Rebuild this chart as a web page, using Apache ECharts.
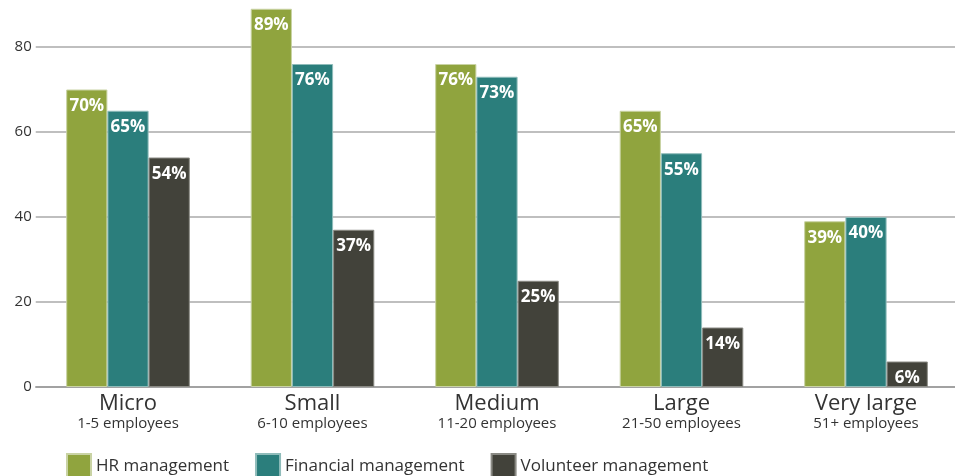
<!DOCTYPE html>
<html><head><meta charset="utf-8">
<script src="https://cdn.jsdelivr.net/npm/echarts@6/dist/echarts.min.js"></script>
<style>html,body{margin:0;padding:0;background:#fff;overflow:hidden}#c{width:960px;height:476px}</style>
</head><body><div id="c"></div>
<script>
var categories = ['Micro', 'Small', 'Medium', 'Large', 'Very large'];
var subLabels = ['1-5 employees', '6-10 employees', '11-20 employees', '21-50 employees', '51+ employees'];
var seriesNames = ['HR management', 'Financial management', 'Volunteer management'];
var hrValues = [70, 89, 76, 65, 39];
var finValues = [65, 76, 73, 55, 40];
var volValues = [54, 37, 25, 14, 6];
var yTicks = [0, 20, 40, 60, 80];

var colors = ['#90a43e', '#2b7e7c', '#42423a'];
var borders = ['#c9d3a4', '#8fbcba', '#8a8a84'];
var FONT = 'Open Sans';
var chart = echarts.init(document.getElementById('c'), null, {renderer: 'canvas'});
function mk(i, data) {
  return {
    name: seriesNames[i], type: 'bar', data: data, barGap: '0%', barCategoryGap: '33%',
    itemStyle: {color: colors[i], borderColor: borders[i], borderWidth: 1},
    label: {show: true, position: 'insideTop', distance: 8, color: '#fff', fontFamily: FONT,
      fontWeight: 'bold', fontSize: 17, formatter: '{c}%'}
  };
}
chart.setOption({
  animation: false,
  textStyle: {fontFamily: FONT},
  grid: {left: 35.75, right: 1.75, top: 4.5, bottom: 89, containLabel: false},
  legend: {left: 66, top: 453, padding: 0, itemWidth: 24, itemHeight: 24, itemGap: 26,
    icon: 'rect', data: seriesNames,
    textStyle: {fontSize: 17, color: '#333', fontFamily: FONT, padding: [0, 0, 0, 0]}},
  xAxis: {type: 'category', data: categories,
    axisLine: {lineStyle: {color: '#999', width: 1.5}}, axisTick: {show: false},
    axisLabel: {margin: 6, interval: 0,
      formatter: function (v, i) { return '{a|' + v + '}\n{b|' + subLabels[i] + '}'; },
      rich: {a: {fontSize: 22, color: '#333', fontFamily: FONT, lineHeight: 22},
             b: {fontSize: 15, color: '#333', fontFamily: FONT, lineHeight: 18}}}},
  yAxis: {type: 'value', min: 0, max: 90, interval: 20,
    axisLine: {show: false}, axisTick: {show: false},
    axisLabel: {showMaxLabel: false, fontSize: 15, color: '#333', margin: 4, fontFamily: FONT},
    splitLine: {showMaxLine: false, lineStyle: {color: '#aaa', width: 1.5}}},
  series: [mk(0, hrValues), mk(1, finValues), mk(2, volValues)]
});
</script></body></html>
